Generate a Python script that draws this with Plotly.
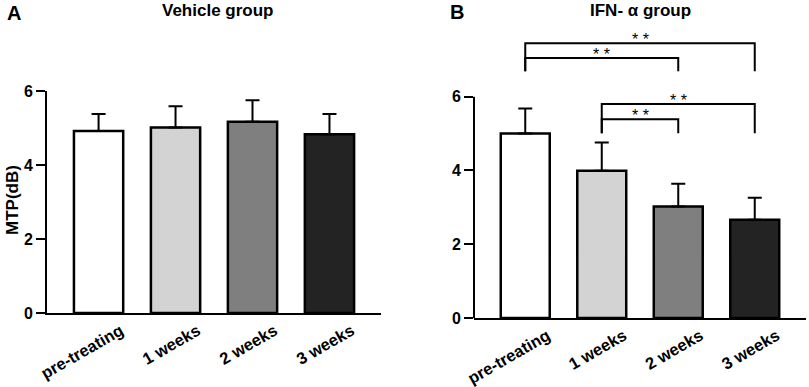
import plotly.graph_objects as go

categories = ["pre-treating", "1 weeks", "2 weeks", "3 weeks"]
bar_colors = ["#ffffff", "#d3d3d3", "#7f7f7f", "#232323"]

vehicle_mean = [4.92, 5.01, 5.17, 4.83]
vehicle_err = [0.46, 0.58, 0.58, 0.55]

ifn_mean = [5.00, 3.99, 3.02, 2.66]
ifn_err = [0.68, 0.77, 0.62, 0.60]

# significance comparisons: (from index, to index, bracket y, leg bottom y, star x)
sig_pairs = [(0, 3, 7.45, 6.69, 1.5), (0, 2, 7.05, 6.69, 1.0),
             (1, 3, 5.80, 5.01, 2.0), (1, 2, 5.39, 5.01, 1.5)]
sig_label = "* *"

FONT = "Liberation Sans, Arial, sans-serif"

fig = go.Figure()

def add_bars(means, errs, xa, ya):
    fig.add_trace(go.Bar(
        x=list(range(len(categories))), y=means,
        marker=dict(color=bar_colors, line=dict(color="black", width=2.5)),
        width=0.64,
        error_y=dict(type="data", symmetric=False, array=errs,
                     arrayminus=[0] * len(errs), color="black",
                     thickness=2, width=7),
        xaxis=xa, yaxis=ya, showlegend=False, hoverinfo="skip"))

add_bars(vehicle_mean, vehicle_err, "x", "y")
add_bars(ifn_mean, ifn_err, "x2", "y2")

for (a, b, yb, yl, xs) in sig_pairs:
    fig.add_trace(go.Scatter(
        x=[a, a, b, b], y=[yl, yb, yb, yl], mode="lines",
        line=dict(color="black", width=2), xaxis="x2", yaxis="y2",
        showlegend=False, hoverinfo="skip", cliponaxis=False))
    fig.add_annotation(x=xs, y=yb, xref="x2", yref="y2", text=sig_label,
                       showarrow=False, yanchor="bottom", yshift=-7,
                       font=dict(family=FONT, size=16, color="black"))

xtickfont = dict(family=FONT, size=16.5, color="black", weight="bold")
ytickfont = dict(family=FONT, size=16, color="black", weight="bold")
xcommon = dict(range=[-0.67, 3.67], tickmode="array",
               tickvals=list(range(len(categories))), ticktext=categories,
               tickangle=-30, showline=True, linecolor="black", linewidth=2,
               ticks="", showgrid=False, zeroline=False, tickfont=xtickfont,
               ticklabelshift=22, ticklabelstandoff=0,
               fixedrange=True, automargin=False)
ycommon = dict(tickvals=[0, 2, 4, 6], ticks="outside", ticklen=9,
               tickwidth=2, tickcolor="black", showgrid=False,
               zeroline=False, tickfont=ytickfont, fixedrange=True,
               automargin=False)

fig.update_layout(
    width=809, height=387,
    margin=dict(l=0, r=0, t=0, b=0),
    paper_bgcolor="white", plot_bgcolor="white",
    bargap=0,
    xaxis=dict(domain=[0.0581, 0.4710], anchor="y", **xcommon),
    xaxis2=dict(domain=[0.5859, 0.9963], anchor="y2", **xcommon),
    yaxis=dict(domain=[0.1912, 0.7649], range=[0, 6], anchor="x",
               showline=True, linecolor="black", linewidth=2, **ycommon),
    yaxis2=dict(domain=[0.1783, 0.9028], range=[0, 7.6], anchor="x2",
                showline=False, **ycommon),
    shapes=[dict(type="line", xref="x2 domain", yref="y2", x0=0, x1=0,
                 y0=0, y1=6, line=dict(color="black", width=2))],
)

def label(x, y, text, size, angle=0):
    fig.add_annotation(x=x / 809, y=1 - y / 387, xref="paper", yref="paper",
                       text=text, showarrow=False, textangle=angle,
                       xanchor="center", yanchor="middle",
                       font=dict(family=FONT, size=size, color="black",
                                 weight="bold"))

label(13, 200, "MTP(dB)", 17, -90)
label(14, 13, "A", 20)
label(457, 12, "B", 20)
label(218, 10, "Vehicle group", 17)
label(640, 10, "IFN- α group", 17)

fig.write_html("out.html",
               config={"displayModeBar": False, "staticPlot": True},
               post_script="document.body.style.margin='0';"
                           "document.body.style.overflow='hidden';")
